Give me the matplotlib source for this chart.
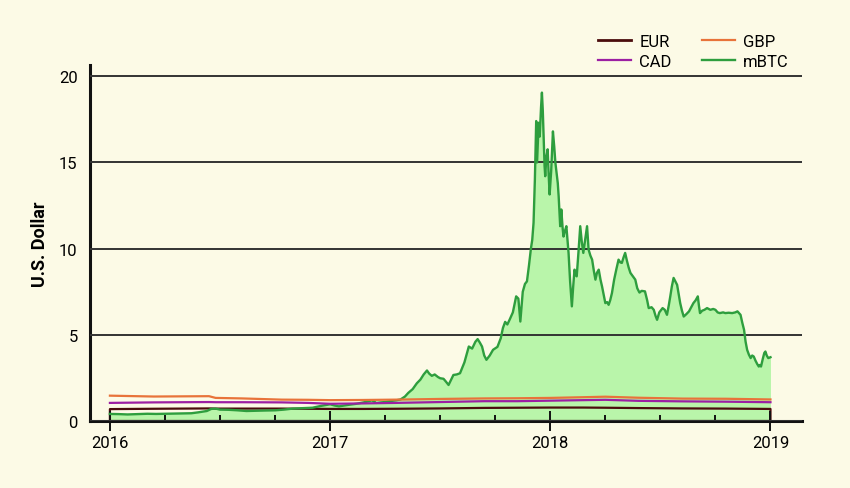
import matplotlib
matplotlib.use('Agg')
import matplotlib.pyplot as plt
from matplotlib.ticker import FixedLocator, MultipleLocator

plt.rcParams['font.family'] = ['Roboto', 'DejaVu Sans']

# currencies in U.S. dollars, decimal years
fx_years = [2016.0, 2016.2, 2016.45, 2016.48, 2016.6, 2016.78, 2016.9, 2017.0, 2017.15, 2017.3,
            2017.5, 2017.7, 2017.85, 2018.0, 2018.15, 2018.25, 2018.4, 2018.6, 2018.8, 2019.0]
gbp = [1.47, 1.42, 1.44, 1.34, 1.31, 1.24, 1.23, 1.21, 1.22, 1.24,
       1.28, 1.31, 1.32, 1.34, 1.38, 1.41, 1.35, 1.30, 1.29, 1.25]
cad = [1.05, 1.08, 1.10, 1.09, 1.09, 1.08, 1.05, 1.00, 1.02, 1.05,
       1.10, 1.15, 1.15, 1.18, 1.21, 1.23, 1.17, 1.14, 1.12, 1.09]
eur = [0.69, 0.71, 0.73, 0.72, 0.72, 0.72, 0.71, 0.70, 0.70, 0.71,
       0.73, 0.76, 0.77, 0.78, 0.78, 0.77, 0.75, 0.73, 0.72, 0.70]

btc_years = [2016.00, 2016.04, 2016.08, 2016.12, 2016.17, 2016.21, 2016.25, 2016.29, 2016.33, 2016.37,
             2016.40, 2016.44, 2016.46, 2016.48, 2016.50, 2016.54, 2016.58, 2016.62, 2016.67, 2016.71,
             2016.75, 2016.79, 2016.83, 2016.87, 2016.92, 2016.96, 2017.00, 2017.02, 2017.04, 2017.08,
             2017.12, 2017.16, 2017.19, 2017.21, 2017.23, 2017.25, 2017.27, 2017.30, 2017.32, 2017.34,
             2017.355, 2017.375, 2017.394, 2017.41, 2017.425, 2017.44, 2017.45, 2017.462, 2017.475, 2017.49,
             2017.50, 2017.515, 2017.525, 2017.538, 2017.55, 2017.56, 2017.575, 2017.59, 2017.61, 2017.63,
             2017.645, 2017.66, 2017.67, 2017.68, 2017.69, 2017.70, 2017.71, 2017.725, 2017.74, 2017.76,
             2017.775, 2017.785, 2017.795, 2017.805, 2017.815, 2017.83, 2017.845, 2017.855, 2017.864, 2017.875,
             2017.885, 2017.894, 2017.903, 2017.912, 2017.918, 2017.924, 2017.93, 2017.936, 2017.940, 2017.947,
             2017.952, 2017.958, 2017.962, 2017.966, 2017.970, 2017.974, 2017.977, 2017.982, 2017.988, 2017.993,
             2017.997, 2018.004, 2018.012, 2018.018, 2018.023, 2018.030, 2018.034, 2018.038, 2018.042, 2018.045,
             2018.050, 2018.056, 2018.060, 2018.066, 2018.073, 2018.078, 2018.083, 2018.090, 2018.098, 2018.104,
             2018.110, 2018.115, 2018.120, 2018.128, 2018.136, 2018.143, 2018.150, 2018.158, 2018.167, 2018.174,
             2018.182, 2018.190, 2018.198, 2018.205, 2018.212, 2018.220, 2018.228, 2018.235, 2018.243, 2018.250,
             2018.258, 2018.265, 2018.272, 2018.280, 2018.290, 2018.300, 2018.310, 2018.318, 2018.325, 2018.333,
             2018.340, 2018.348, 2018.356, 2018.364, 2018.375, 2018.386, 2018.395, 2018.405, 2018.415, 2018.430,
             2018.440, 2018.447, 2018.460, 2018.470, 2018.478, 2018.485, 2018.495, 2018.510, 2018.520, 2018.530,
             2018.538, 2018.545, 2018.552, 2018.560, 2018.568, 2018.576, 2018.584, 2018.590, 2018.598, 2018.606,
             2018.618, 2018.630, 2018.640, 2018.650, 2018.660, 2018.670, 2018.675, 2018.680, 2018.690, 2018.700,
             2018.712, 2018.727, 2018.740, 2018.750, 2018.760, 2018.770, 2018.785, 2018.795, 2018.810, 2018.826,
             2018.840, 2018.850, 2018.858, 2018.864, 2018.872, 2018.880, 2018.887, 2018.894, 2018.902, 2018.910,
             2018.917, 2018.924, 2018.932, 2018.940, 2018.947, 2018.952, 2018.957, 2018.965, 2018.972, 2018.977,
             2018.983, 2018.990, 2019.000]
mbtc = [0.41, 0.40, 0.38, 0.40, 0.42, 0.41, 0.42, 0.43, 0.44, 0.45,
        0.50, 0.58, 0.70, 0.72, 0.66, 0.65, 0.62, 0.58, 0.60, 0.61,
        0.62, 0.66, 0.72, 0.74, 0.77, 0.88, 0.97, 0.90, 0.85, 0.93,
        1.00, 1.10, 1.20, 1.05, 1.08, 1.10, 1.15, 1.20, 1.25, 1.42,
        1.63, 1.85, 2.19, 2.40, 2.70, 2.93, 2.75, 2.62, 2.70, 2.55,
        2.48, 2.45, 2.30, 2.09, 2.40, 2.67, 2.70, 2.77, 3.40, 4.32,
        4.20, 4.60, 4.75, 4.55, 4.32, 3.80, 3.55, 3.80, 4.13, 4.30,
        4.80, 5.40, 5.75, 5.60, 5.87, 6.30, 7.23, 7.10, 5.77, 7.50,
        7.95, 8.10, 9.00, 10.0, 10.5, 11.5, 14.0, 17.4, 15.0, 17.3,
        16.5, 18.2, 19.05, 18.0, 16.3, 14.8, 14.2, 15.3, 15.76, 14.2,
        13.14, 14.5, 16.8, 15.9, 15.0, 14.2, 13.8, 13.04, 12.0, 11.3,
        12.27, 11.2, 10.7, 11.0, 11.3, 10.5, 9.75, 8.1, 6.65, 7.8,
        8.78, 8.5, 8.39, 9.8, 11.3, 10.4, 9.75, 10.5, 11.3, 9.94,
        9.6, 9.36, 8.7, 8.2, 8.6, 8.78, 8.2, 7.81, 7.3, 6.84,
        6.9, 6.74, 7.0, 7.42, 8.2, 8.8, 9.36, 9.2, 9.17, 9.5,
        9.75, 9.3, 8.9, 8.59, 8.4, 8.2, 7.7, 7.45, 7.55, 7.52,
        7.0, 6.55, 6.6, 6.45, 6.1, 5.87, 6.3, 6.55, 6.45, 6.16,
        6.7, 7.23, 7.8, 8.3, 8.1, 7.9, 7.3, 6.84, 6.4, 6.06,
        6.2, 6.36, 6.6, 6.84, 7.0, 7.23, 6.7, 6.26, 6.4, 6.45,
        6.55, 6.45, 6.5, 6.45, 6.3, 6.26, 6.3, 6.26, 6.28, 6.26,
        6.3, 6.36, 6.25, 6.16, 5.7, 5.29, 4.6, 4.13, 3.85, 3.65,
        3.8, 3.74, 3.5, 3.3, 3.16, 3.25, 3.16, 3.6, 3.95, 4.03,
        3.8, 3.65, 3.70]

year_ticks = [2016, 2017, 2018, 2019]

bg = '#FCFAE6'
fig = plt.figure(figsize=(8.5, 4.89), dpi=100, facecolor=bg)
ax = fig.add_axes([0.106, 0.137, 0.838, 0.728], facecolor=bg)

ax.fill_between(btc_years, mbtc, color='#B9F5AA', lw=0, zorder=1)
ax.grid(True, axis='y', color='#333333', lw=1.4, zorder=2)
ax.set_axisbelow(False)
# EUR drawn as an outlined area, kept under the spines
ax.fill_between(fx_years, eur, facecolor='none', edgecolor='#4A0C0C', lw=1.6, zorder=2.3)
ax.plot(btc_years, mbtc, color='#2E9E3E', lw=1.7, label='mBTC', zorder=3)
ax.plot([], [], color='#4A0C0C', lw=2, label='EUR')
ax.plot(fx_years, cad, color='#9C1FA3', lw=1.6, label='CAD', zorder=4)
ax.plot(fx_years, gbp, color='#E8733A', lw=1.6, label='GBP', zorder=5)

ax.set_xlim(2015.91, 2019.145)
ax.set_ylim(0, 20.65)
ax.xaxis.set_major_locator(FixedLocator(year_ticks))
ax.xaxis.set_minor_locator(MultipleLocator(0.25))
ax.xaxis.set_major_formatter(lambda v, p: '%d' % v)
ax.yaxis.set_major_locator(FixedLocator([0, 5, 10, 15, 20]))
ax.tick_params(axis='x', which='major', direction='inout', length=14, width=1.4,
               labelsize=12, pad=3, color='#111111')
ax.tick_params(axis='x', which='minor', direction='in', length=4.5, width=1.4, color='#111111')
ax.tick_params(axis='y', length=0, labelsize=12, pad=9)

for s in ['top', 'right']:
    ax.spines[s].set_visible(False)
for s in ['left', 'bottom']:
    ax.spines[s].set_linewidth(2.2)
    ax.spines[s].set_color('#111111')

ax.set_ylabel('U.S. Dollar', fontsize=13, fontweight='bold', labelpad=7)

h, l = ax.get_legend_handles_labels()
order = [l.index(n) for n in ['EUR', 'CAD', 'GBP', 'mBTC']]
fig.legend([h[i] for i in order], [l[i] for i in order], ncol=2, loc='upper right',
           bbox_to_anchor=(0.938, 0.945), frameon=False, fontsize=12, borderpad=0,
           handlelength=2.0, handletextpad=0.5, columnspacing=1.8, labelspacing=0.3)

fig.savefig('out.png', dpi=100, facecolor=bg)
